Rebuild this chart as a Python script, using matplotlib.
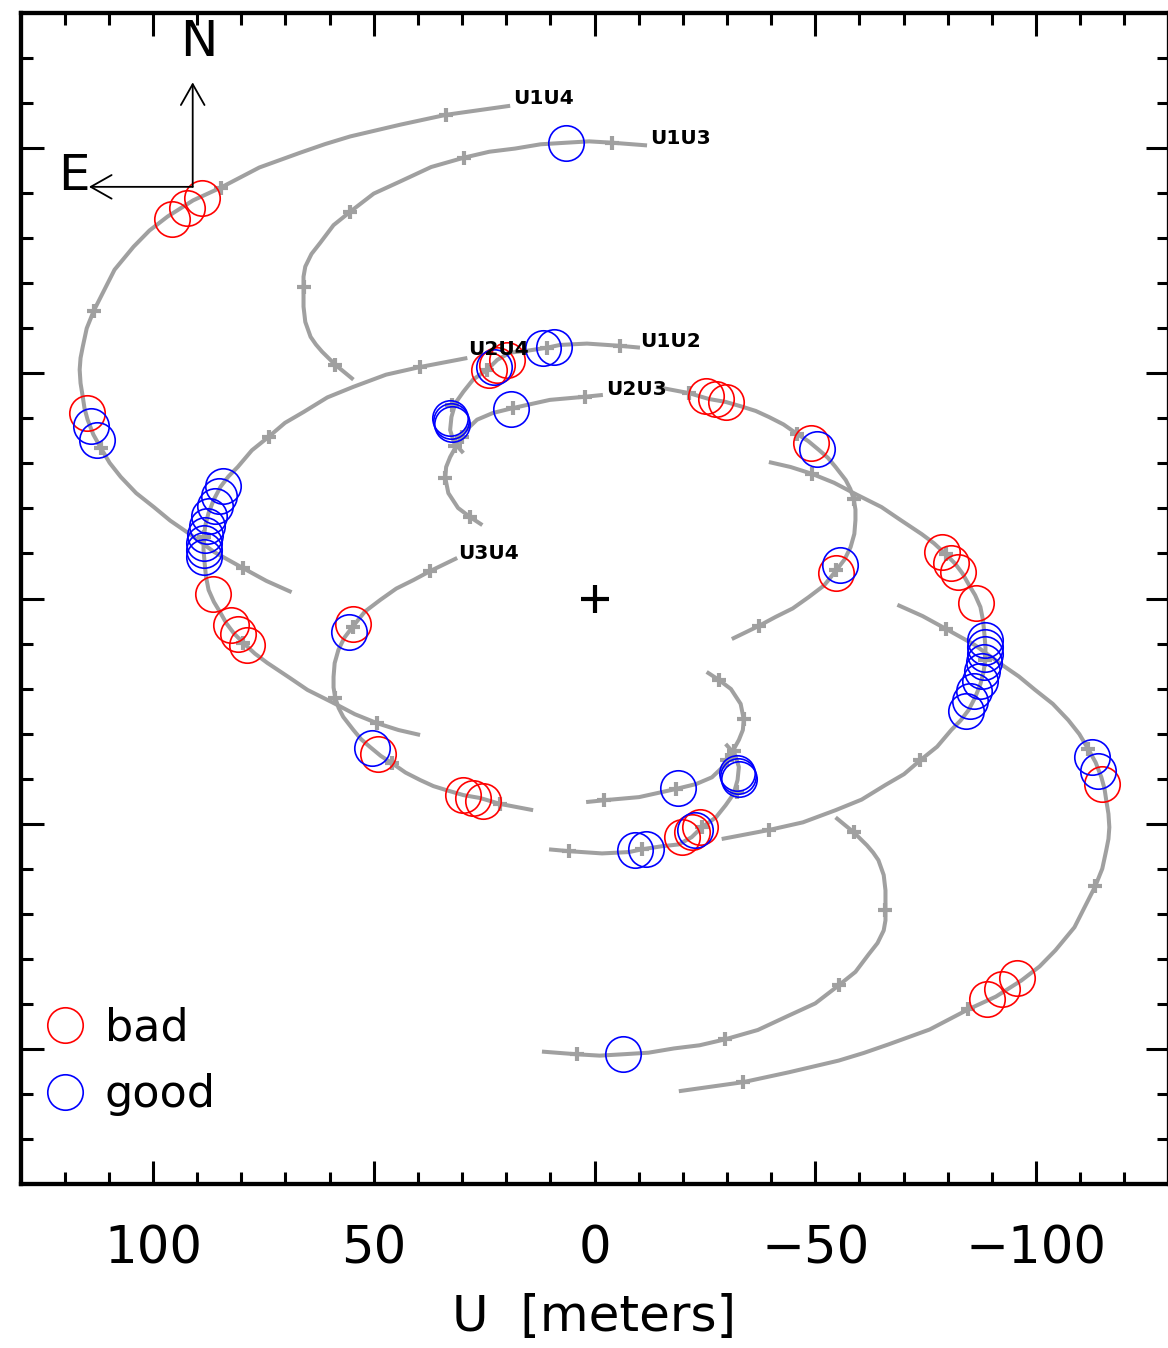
import numpy as np
import matplotlib.pyplot as plt

# uv tracks in meters (one half of each baseline, the other half is the point mirror)
u1u4_u = [19.1, 33.6, 44.0, 55.3, 61.0, 66.6, 75.9, 84.7, 90.9, 96.7, 100.8, 104.4, 108.7, 111.8, 113.4,
          115.0, 115.9, 116.4, 116.6, 116.4, 115.9, 115.5, 114.8, 113.5, 111.8, 109.8, 107.3, 103.8, 99.8,
          96.1, 92.1, 86.1, 79.7, 74.3, 68.6]
u1u4_v = [109.4, 107.4, 105.2, 102.6, 100.9, 99.0, 95.7, 91.2, 88.4, 84.8, 81.7, 78.1, 73.0, 67.0, 63.9,
          60.0, 55.9, 53.4, 50.8, 47.8, 44.8, 42.2, 39.7, 36.4, 33.4, 30.1, 27.0, 23.4, 20.3,
          17.3, 14.6, 10.3, 6.8, 3.9, 1.4]

u1u3_u = [-11.9, -4.0, 1.2, 6.4, 12.2, 18.0, 23.8, 29.5, 37.0, 44.0, 50.0, 55.3, 59.1, 62.1, 64.1,
          65.5, 65.9, 65.9, 65.9, 65.5, 64.3, 63.1, 61.7, 58.7, 54.6]
u1u3_v = [100.6, 101.2, 101.5, 101.2, 100.85, 99.9, 99.2, 97.9, 95.8, 92.6, 89.9, 85.9, 82.9, 79.0, 76.5,
          73.7, 71.45, 69.2, 64.8, 61.4, 58.1, 56.4, 54.8, 51.9, 48.6]

u2u4_u = [28.8, 39.5, 47.2, 54.6, 60.5, 65.9, 70.1, 73.8, 77.6, 80.8, 82.9, 84.7, 86.2, 87.4, 88.1,
          88.5, 88.55, 88.3, 88.0, 87.4, 86.2, 84.7, 83.35, 81.7, 79.5, 76.9, 74.1, 68.9, 65.0, 59.1,
          54.25, 49.2, 44.4, 39.5]
u2u4_v = [53.4, 51.4, 49.7, 47.0, 44.65, 41.4, 39.0, 35.9, 32.9, 29.2, 27.1, 24.8, 22.0, 19.0, 16.4,
          13.7, 10.8, 7.9, 4.9, 1.9, -0.75, -3.2, -5.55, -7.7, -9.9, -12.25, -14.3, -17.7, -20.3, -23.2,
          -25.7, -27.7, -29.2, -30.3]

u1u2_u = [-10.3, -5.8, 1.7, 7.8, 10.7, 15.3, 19.1, 22.0, 24.3, 27.5, 29.7, 31.5, 32.4, 32.7, 31.8, 29.7]
u1u2_v = [55.7, 56.1, 56.6, 56.3, 55.7, 55.0, 54.6, 53.0, 50.8, 48.6, 45.9, 43.4, 40.3, 37.4, 34.6, 32.3]

u2u3_u = [-1.9, 2.1, 10.1, 18.4, 23.0, 26.6, 29.7, 30.9, 32.7, 33.6, 33.8, 33.1, 30.9, 28.2, 25.4]
u2u3_v = [45.2, 44.8, 44.1, 42.3, 41.2, 39.7, 36.8, 34.6, 31.4, 29.2, 26.8, 23.4, 20.1, 18.1, 16.3]

u3u4_u = [31.1, 37.2, 41.0, 44.9, 48.5, 52.0, 54.8, 56.65, 58.0, 58.85, 59.1, 59.1, 58.7, 57.95, 56.9,
          54.6, 52.85, 50.8, 48.4, 45.8, 42.8, 39.5, 36.5, 33.4, 29.7, 25.9, 21.4, 13.9]
u3u4_v = [9.0, 6.1, 4.1, 2.2, -0.3, -2.9, -6.3, -8.7, -11.4, -14.35, -17.4, -19.75, -22.1, -24.3, -26.3,
          -29.2, -31.25, -33.0, -34.95, -36.6, -38.65, -40.3, -41.65, -42.6, -43.65, -44.3, -45.6, -47.0]

tracks = [(u1u4_u, u1u4_v), (u1u3_u, u1u3_v), (u2u4_u, u2u4_v),
          (u1u2_u, u1u2_v), (u2u3_u, u2u3_v), (u3u4_u, u3u4_v)]

# hourly marks along the tracks
hour_u = [33.6, 84.7, 113.4, 111.8, 79.7,
          -4.0, 29.5, 55.3, 65.9, 58.7,
          39.5, 73.8, 88.5, 79.5, 49.2,
          -5.8, 10.7, 24.3, 32.2, 31.5,
          2.1, 18.4, 30.0, 33.8, 28.2,
          37.2, 54.8, 58.7, 45.8, 21.4]
hour_v = [107.4, 91.2, 63.9, 33.4, 6.8,
          101.2, 97.9, 85.9, 69.2, 51.9,
          51.4, 35.9, 13.7, -9.9, -27.7,
          56.1, 55.7, 50.8, 43.0, 33.9,
          44.8, 42.3, 35.9, 26.8, 18.1,
          6.1, -6.3, -22.1, -36.6, -45.6]

# observed points
bad_u = [95.8, 92.4, 88.8, 115.0,
         86.5, 82.4, 80.8, 78.6,
         23.9, 22.0, 19.8,
         54.6, 49.0, 29.7, 27.5, 25.2]
bad_v = [84.3, 86.8, 89.0, 41.2,
         1.0, -5.9, -7.9, -10.3,
         50.8, 51.9, 53.0,
         -5.7, -34.6, -43.7, -44.3, -45.0]
good_u = [114.1, 112.7, 6.4,
          84.2, 85.1, 86.0, 87.2, 87.8, 88.3, 88.5, 88.5, 88.5,
          22.7, 11.6, 9.2, 32.7, 32.4, 32.2,
          18.9, 55.7, 50.3]
good_v = [38.3, 35.2, 101.2,
          25.0, 22.8, 20.6, 18.3, 16.1, 14.1, 12.3, 10.8, 9.2,
          51.4, 55.7, 55.9, 40.1, 39.4, 38.8,
          42.1, -7.4, -33.2]

names = ['U1U4', 'U1U3', 'U1U2', 'U2U4', 'U2U3', 'U3U4']
name_u = [18.5, -12.5, -10.4, 28.6, -2.6, 30.9]
name_v = [111.0, 102.2, 57.0, 55.2, 46.5, 10.1]

gray = '#a0a0a0'

fig = plt.figure(figsize=(11.68, 13.48), dpi=100)
ax = fig.add_axes([20.5 / 1168, 164 / 1348, 1148 / 1168, 1171 / 1348])

for tu, tv in tracks:
    tu = np.array(tu)
    tv = np.array(tv)
    ax.plot(tu, tv, color=gray, lw=2.9, solid_capstyle='butt', solid_joinstyle='round', zorder=2)
    ax.plot(-tu, -tv, color=gray, lw=2.9, solid_capstyle='butt', solid_joinstyle='round', zorder=2)

hu = np.array(hour_u)
hv = np.array(hour_v)
ax.plot(np.concatenate([hu, -hu]), np.concatenate([hv, -hv]), ls='none',
        marker='+', ms=10, mew=3, color=gray, zorder=2)

bu = np.array(bad_u)
bv = np.array(bad_v)
gu = np.array(good_u)
gv = np.array(good_v)
h_bad, = ax.plot(np.concatenate([bu, -bu]), np.concatenate([bv, -bv]), ls='none',
                 marker='o', ms=25.5, mfc='none', mec='red', mew=1.2, zorder=3, label='bad')
h_good, = ax.plot(np.concatenate([gu, -gu]), np.concatenate([gv, -gv]), ls='none',
                  marker='o', ms=25.5, mfc='none', mec='blue', mew=1.2, zorder=3, label='good')

for n, x, y in zip(names, name_u, name_v):
    ax.text(x, y, n, fontsize=14.5, fontweight='bold', ha='left', va='center', zorder=4)

# centre
ax.plot([0], [0], marker='+', ms=20, mew=3, color='black', zorder=4)

# compass
ax.annotate('', xy=(91.0, 114.6), xytext=(91.0, 91.4),
            arrowprops=dict(arrowstyle='->,head_length=15,head_width=8.5', mutation_scale=1,
                            lw=1.3, color='black', shrinkA=0, shrinkB=0))
ax.annotate('', xy=(114.5, 91.4), xytext=(91.0, 91.4),
            arrowprops=dict(arrowstyle='->,head_length=15,head_width=8.5', mutation_scale=1,
                            lw=1.3, color='black', shrinkA=0, shrinkB=0))
ax.text(89.6, 120.4, 'N', fontsize=36, ha='center', va='baseline')
ax.text(117.9, 90.8, 'E', fontsize=36, ha='center', va='baseline')

ax.legend(handles=[h_bad, h_good], loc='lower left', bbox_to_anchor=(0, 0.0428),
          frameon=False, fontsize=32, numpoints=1, handlelength=1.2,
          handletextpad=0.30, borderpad=0.40, borderaxespad=0, labelspacing=0.53)

ax.set_xlim(130, -130)
ax.set_ylim(-130, 130)
ax.set_xticks([100, 50, 0, -50, -100])
ax.set_xticks(np.arange(-120, 121, 10), minor=True)
ax.set_yticks([-100, -50, 0, 50, 100])
ax.set_yticks(np.arange(-120, 121, 10), minor=True)
ax.tick_params(which='both', direction='in', top=True, right=True, width=2.2,
               labelleft=False, color='black')
ax.tick_params(which='major', length=16.5)
ax.tick_params(which='minor', length=8.6)
ax.tick_params(axis='x', labelsize=37, pad=29.5)
for s in ax.spines.values():
    s.set_linewidth(3.1)
ax.set_xlabel('U  [meters]', fontsize=36, labelpad=13)

fig.savefig('out.png', dpi=100)
